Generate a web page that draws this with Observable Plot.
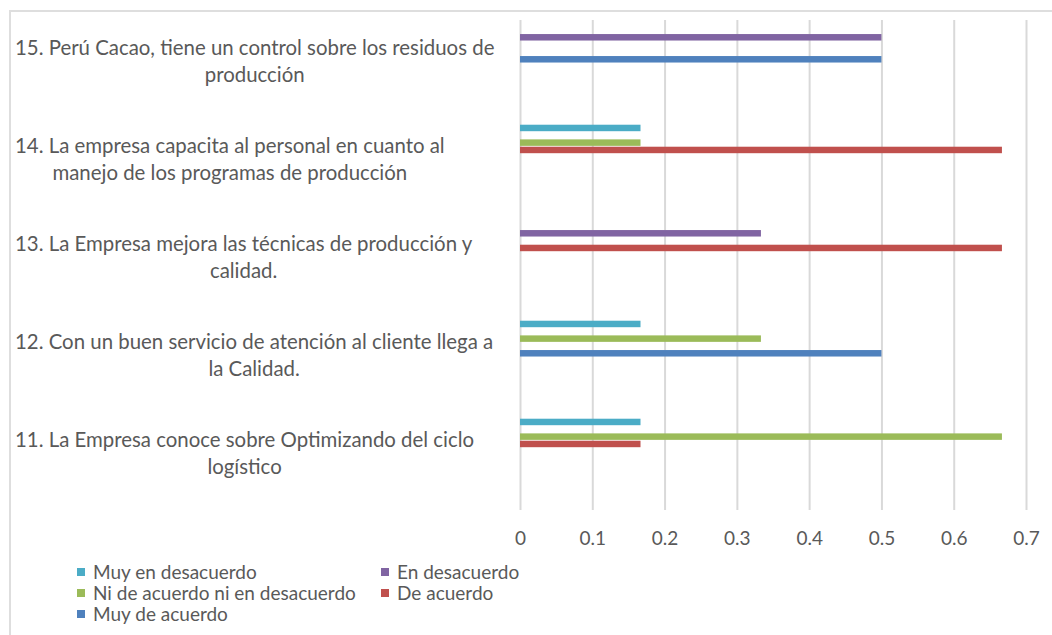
<!DOCTYPE html>
<html><head><meta charset="utf-8">
<script src="https://cdn.jsdelivr.net/npm/d3@7"></script>
<script src="https://cdn.jsdelivr.net/npm/@observablehq/plot@0.6"></script>
<style>
body{margin:0;background:#fff;font-family:Lato,"Open Sans",sans-serif;}
#wrap{position:relative;width:1052px;height:635px;overflow:hidden;}
#frame{position:absolute;left:9px;top:10px;width:1100px;height:700px;border-top:2px solid #dedede;border-left:2px solid #dedede;}
#chart{position:absolute;left:0;top:0;}
#legend{position:absolute;left:77px;top:561px;display:grid;grid-template-columns:304px auto;grid-auto-rows:21px;font-size:19px;color:#595959;}
#legend .it{display:flex;align-items:center;white-space:nowrap;}
#legend .sw{width:8px;height:8px;margin-right:8px;flex:none;}
</style></head>
<body>
<div id="wrap"><div id="frame"></div><div id="chart"></div><div id="legend"></div></div>
<script>
const categories = [
  "15. Perú Cacao, tiene un control sobre los residuos de\nproducción",
  "14. La empresa capacita al personal en cuanto al\nmanejo de los programas de producción",
  "13. La Empresa mejora las técnicas de producción y\ncalidad.",
  "12. Con un buen servicio de atención al cliente llega a\nla Calidad.",
  "11. La Empresa conoce sobre Optimizando del ciclo\nlogístico"
];
const series = ["Muy en desacuerdo", "En desacuerdo", "Ni de acuerdo ni en desacuerdo", "De acuerdo", "Muy de acuerdo"];
const colors = ["#4BACC6", "#8064A2", "#9BBB59", "#C0504D", "#4F81BD"];
const muyEnDesacuerdo = [0, 0.1667, 0, 0.1667, 0.1667];
const enDesacuerdo    = [0.5, 0, 0.3333, 0, 0];
const niNi            = [0, 0.1667, 0, 0.3333, 0.6667];
const deAcuerdo       = [0, 0.6667, 0.6667, 0, 0.1667];
const muyDeAcuerdo    = [0.5, 0, 0, 0.5, 0];
const xTicks = [0, 0.1, 0.2, 0.3, 0.4, 0.5, 0.6, 0.7];

const valueSets = [muyEnDesacuerdo, enDesacuerdo, niNi, deAcuerdo, muyDeAcuerdo];
const rows = [];
series.forEach((s, i) => categories.forEach((c, j) => {
  if (valueSets[i][j] > 0) rows.push({cat: c, series: s, value: valueSets[i][j]});
}));

const chart = Plot.plot({
  width: 1052,
  height: 555,
  marginTop: 19,
  marginBottom: 45,
  marginLeft: 520,
  marginRight: 26,
  style: {fontFamily: "Lato, 'Open Sans', sans-serif", background: "transparent", color: "#595959"},
  x: {domain: [0, 0.7], label: null},
  y: {domain: series, axis: null, paddingInner: 0.116, paddingOuter: 4.24, align: 0.108, round: false},
  fy: {domain: categories, axis: null, padding: 0},
  color: {domain: series, range: colors},
  marks: [
    Plot.ruleX(xTicks, {stroke: "#d9d9d9", strokeWidth: 2}),
    Plot.barX(rows, {fy: "cat", y: "series", x: "value", fill: "series"}),
    Plot.axisX(xTicks, {tickSize: 0, tickPadding: 21, fontSize: 19, tickFormat: d => String(d), fill: "#595959"}),
    Plot.text(categories, {fy: d => d, text: d => d, frameAnchor: "left", textAnchor: "middle", dx: -260, dy: -10, fontSize: 20.4, lineHeight: 1.32, fill: "#595959", className: "catlabel"})
  ]
});
document.getElementById("chart").appendChild(chart);

// Excel-style label boxes: each label block starts at the same left edge, lines centred in the block
chart.querySelectorAll(".catlabel text").forEach(t => {
  const r = t.getBoundingClientRect();
  const shift = 15 - r.left;
  t.setAttribute("transform", `translate(${shift},0) ` + (t.getAttribute("transform") || ""));
});

const legend = document.getElementById("legend");
series.forEach((s, i) => {
  const it = document.createElement("div");
  it.className = "it";
  it.innerHTML = `<span class="sw" style="background:${colors[i]}"></span><span>${s}</span>`;
  legend.appendChild(it);
});
</script>
</body></html>
